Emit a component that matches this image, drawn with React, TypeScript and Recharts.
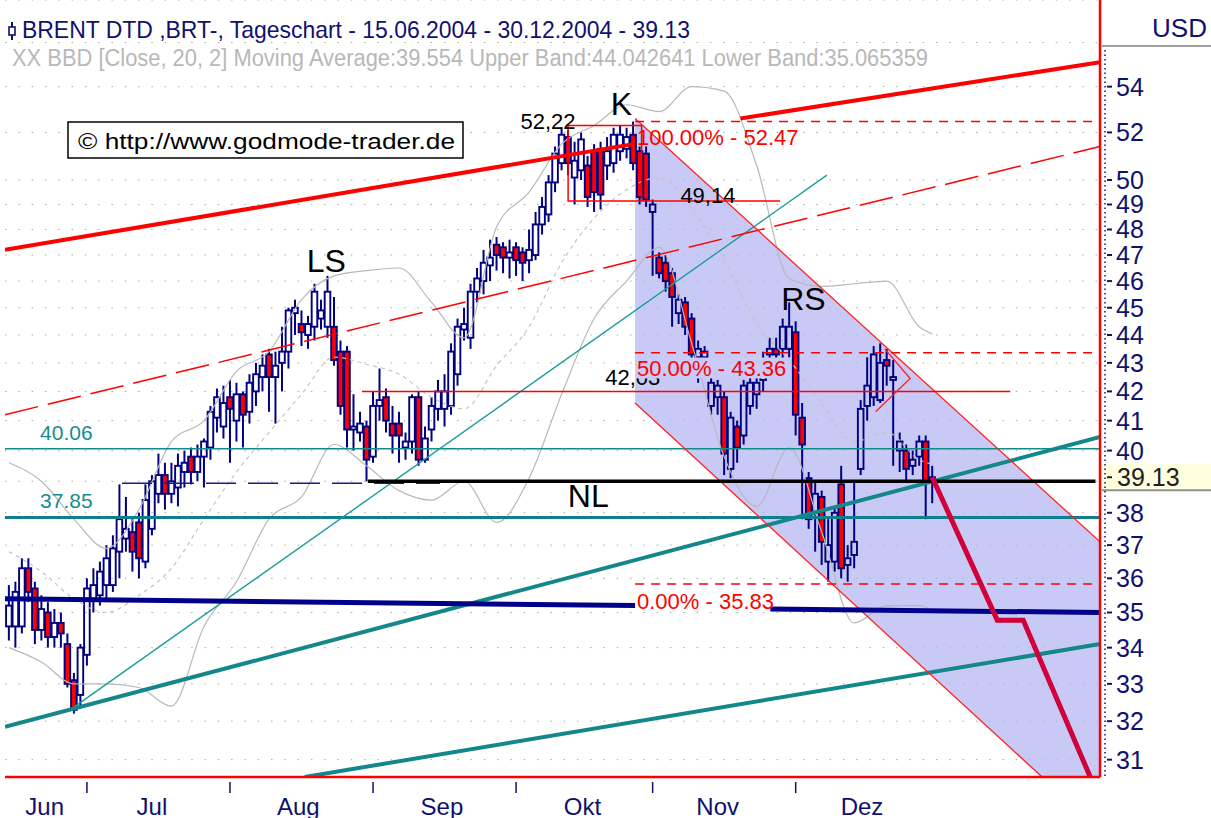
import React from 'react'
import {
  ComposedChart, Bar, Line, Area, XAxis, YAxis, CartesianGrid, ReferenceDot,
} from 'recharts'

// trading day index: 0 = 15.06.2004 ... 142 = 30.12.2004
const opens = [
  34.6, 34.6, 34.6, 36.3, 35.7, 34.5, 35.0, 34.3, 34.7, 34.1,
  33.1, 32.7, 33.8, 35.4, 35.5, 35.8, 35.8, 36.8, 37.2, 37.4,
  37.7, 36.5, 37.5, 38.6, 39.2, 38.6, 38.8, 39.3, 39.8, 39.3,
  39.8, 40.1, 41.1, 40.8, 41.8, 41.0, 41.9, 41.3, 42.0, 42.5,
  43.3, 42.5, 43.0, 43.4, 44.8, 44.4, 44.0, 44.3, 44.6, 44.3,
  44.3, 43.4, 43.4, 40.7, 40.6, 40.8, 39.8, 41.5, 41.8, 40.9,
  40.9, 40.1, 40.3, 41.8, 39.7, 40.7, 41.4, 41.4, 41.5, 42.6,
  44.2, 43.9, 45.6, 46.0, 46.6, 47.4, 47.3, 46.9, 47.3, 47.1,
  46.8, 47.0, 48.2, 48.6, 49.9, 50.7, 51.8, 50.1, 50.4, 50.6,
  51.2, 51.3, 50.6, 50.7, 51.2, 51.3, 51.9, 51.2, 51.1, 48.7,
  46.9, 46.7, 46.3, 44.8, 45.2, 44.6, 43.2, 43.2, 41.5, 41.8,
  41.8, 39.4, 40.8, 40.5, 41.5, 41.9, 42.4, 43.3, 43.5, 43.5,
  43.5, 44.1, 41.1, 39.1, 38.0, 38.5, 36.5, 36.5, 38.9, 36.4,
  36.7, 39.4, 41.5, 41.8, 41.7, 43.1, 42.4, 40.0, 40.0, 39.5,
  39.8, 40.3, 39.0,
]
const highs = [
  35.8, 35.9, 36.6, 36.6, 35.9, 35.5, 35.3, 35.1, 35.0, 34.4,
  33.3, 34.1, 36.0, 36.3, 36.5, 37.0, 37.3, 38.9, 38.5, 37.9,
  38.0, 38.9, 39.2, 39.9, 39.6, 39.6, 39.9, 40.0, 40.1, 40.2,
  40.4, 41.5, 42.1, 42.2, 42.4, 42.3, 42.0, 42.6, 43.0, 43.3,
  43.5, 43.4, 44.3, 45.0, 45.3, 44.9, 44.7, 45.9, 45.3, 46.2,
  45.4, 43.8, 43.6, 41.9, 41.3, 41.0, 42.0, 42.8, 42.1, 41.5,
  41.3, 40.6, 41.9, 42.0, 40.8, 41.8, 42.4, 42.6, 43.7, 44.6,
  45.0, 45.9, 46.5, 47.2, 47.6, 47.7, 47.5, 47.6, 47.5, 47.3,
  48.0, 48.7, 49.3, 50.2, 51.4, 52.22, 52.1, 51.6, 52.0, 51.0,
  51.5, 51.6, 51.8, 52.2, 52.3, 52.2, 52.47, 51.4, 51.4, 49.2,
  47.1, 47.0, 46.5, 45.5, 45.4, 44.8, 43.8, 43.6, 42.5, 42.4,
  42.0, 41.3, 41.0, 42.4, 42.6, 42.7, 43.4, 43.9, 43.9, 44.6,
  45.2, 44.5, 41.6, 39.3, 39.0, 38.7, 37.8, 38.2, 39.5, 37.0,
  39.0, 41.7, 43.2, 43.6, 43.7, 43.5, 43.1, 40.6, 40.2, 40.0,
  40.5, 40.5, 39.5,
]
const lows = [
  34.2, 34.0, 34.4, 35.3, 34.1, 34.2, 34.0, 34.0, 34.0, 32.9,
  32.2, 32.4, 33.5, 35.0, 35.2, 35.4, 35.6, 36.0, 36.8, 36.2,
  36.0, 36.3, 37.3, 38.3, 38.1, 38.3, 38.2, 38.8, 38.9, 39.0,
  38.8, 39.7, 40.6, 40.4, 39.6, 40.3, 40.1, 40.9, 41.5, 42.0,
  41.3, 40.9, 42.0, 42.8, 44.0, 43.6, 43.5, 43.8, 44.2, 43.9,
  42.9, 41.2, 40.1, 40.0, 40.3, 39.0, 39.6, 41.0, 40.6, 39.9,
  39.6, 39.7, 39.9, 39.5, 39.6, 40.3, 41.0, 40.8, 41.2, 42.2,
  43.8, 43.5, 45.2, 45.5, 46.0, 46.4, 46.3, 46.1, 46.2, 46.0,
  46.3, 46.8, 47.8, 48.3, 49.5, 50.4, 50.2, 49.0, 50.0, 48.9,
  48.7, 48.8, 50.0, 50.3, 50.8, 50.9, 50.4, 49.0, 48.9, 46.2,
  46.1, 45.6, 44.3, 44.4, 44.0, 42.5, 42.3, 42.6, 41.2, 41.2,
  39.2, 39.1, 39.6, 40.2, 41.2, 41.4, 42.0, 43.0, 42.9, 43.1,
  43.2, 40.5, 37.8, 37.5, 36.8, 36.4, 35.9, 36.2, 36.0, 35.9,
  36.3, 39.2, 41.0, 41.5, 41.6, 42.2, 39.5, 39.3, 39.0, 39.2,
  39.5, 37.8, 38.3,
]
const closes = [
  35.2, 35.6, 36.3, 35.6, 34.5, 35.1, 34.3, 34.7, 34.4, 33.0,
  32.3, 34.0, 35.7, 35.8, 36.2, 36.6, 36.9, 37.8, 37.5, 36.8,
  36.6, 38.4, 39.0, 39.2, 38.6, 39.0, 39.5, 39.6, 39.3, 39.8,
  40.3, 41.3, 41.8, 41.6, 41.4, 41.9, 41.2, 42.3, 42.6, 42.9,
  42.5, 42.9, 43.4, 44.9, 45.0, 44.1, 44.4, 45.6, 44.9, 45.6,
  43.1, 41.5, 40.7, 40.8, 40.9, 39.7, 41.5, 41.7, 41.0, 40.5,
  40.5, 40.3, 41.8, 39.7, 40.4, 41.5, 42.0, 42.0, 43.4, 44.3,
  44.4, 45.6, 46.1, 46.7, 46.9, 47.0, 46.9, 47.1, 46.8, 46.7,
  47.2, 48.2, 48.9, 49.9, 51.1, 51.9, 50.7, 50.8, 51.7, 49.3,
  49.5, 49.4, 51.2, 51.9, 51.9, 51.8, 50.7, 49.3, 49.2, 49.0,
  46.3, 46.0, 45.4, 45.3, 44.3, 43.3, 43.5, 43.4, 42.3, 42.2,
  39.9, 41.1, 40.1, 42.2, 42.3, 42.3, 43.0, 43.5, 43.3, 44.3,
  44.3, 41.2, 40.2, 37.8, 38.6, 37.1, 37.0, 38.0, 36.3, 36.6,
  37.1, 41.4, 42.2, 43.3, 43.0, 42.9, 42.5, 40.3, 39.4, 39.7,
  40.3, 39.0, 39.13,
]

// Bollinger bands (20, 2)
const bbIdx = [0, 5, 10, 15, 20, 25, 30, 35, 40, 45, 50, 55, 60, 65, 70, 75, 80, 85, 90, 95, 100, 105, 110, 115, 120, 125, 130, 135, 140, 142]
const bbUpper = [39.6, 39.0, 37.8, 36.9, 38.1, 40.3, 41.0, 42.7, 43.4, 45.3, 46.2, 46.4, 46.5, 45.2, 43.9, 48.1, 49.5, 51.5, 52.3, 53.2, 52.9, 54.0, 53.8, 50.6, 46.1, 45.8, 45.9, 46.0, 44.3, 44.04]
const bbMid = [36.8, 36.2, 35.4, 35.0, 35.5, 36.3, 37.8, 39.3, 40.6, 41.9, 43.2, 42.95, 42.6, 41.8, 41.4, 42.9, 44.3, 46.7, 48.45, 49.6, 50.1, 48.85, 46.8, 44.4, 43.1, 41.6, 40.3, 40.6, 39.7, 39.55]
const bbLower = [34.0, 33.6, 33.0, 33.0, 32.9, 32.4, 34.6, 35.9, 37.8, 38.5, 40.2, 39.5, 38.7, 38.4, 39.0, 37.7, 39.1, 41.9, 44.6, 46.0, 47.3, 43.7, 39.8, 38.2, 40.1, 37.4, 34.7, 35.2, 35.2, 35.07]

const monthStarts = [12, 34, 56, 78, 99, 121]
const monthMids = [5.5, 22, 44.5, 66.6, 88.2, 109, 131.2]
const monthNames = ['Jun', 'Jul', 'Aug', 'Sep', 'Okt', 'Nov', 'Dez']
const priceTicks = [31, 32, 33, 34, 35, 36, 37, 38, 39, 40, 41, 42, 43, 44, 45, 46, 47, 48, 49, 50, 52, 54, 56, 58]
const hiddenTickLabels = [39, 56, 58]
const lastPrice = 39.13

// drawn trend lines, [index, price]
const redTop1 = [[-0.6, 47.2], [96, 51.5]]
const redTop2 = [[112.5, 52.6], [167.8, 55.1]]
const redMid = [[-0.6, 41.2], [167.8, 51.4]]
const tealThin = [[9.4, 32.3], [125.8, 50.2]]
const tealThick = [[-0.6, 31.85], [167.8, 40.45]]
const tealLow = [[45.5, 30.56], [167.8, 34.1]]
const lvl4006 = [[-0.6, 40.06], [167.8, 40.06]]
const lvl3785 = [[-0.6, 37.85], [167.8, 37.85]]
const neckline = [[55.2, 39.0], [167.1, 39.0]]
const necklineLeft = [[17.4, 38.94], [66.3, 38.94]]
const support35a = [[-0.6, 35.4], [96.3, 35.2]]
const support35b = [[117.1, 35.1], [167.8, 35.0]]
const chanUpper = [[96.3, 52.6], [167.8, 37.1]]
const chanLower = [[96.3, 41.6], [158.9, 30.56]]
const chanFill = [[96.3, 41.6, 52.6], [158.9, 30.56, 38.73], [167.8, 30.56, 37.1]]
const fib100 = [[96.3, 52.47], [167.8, 52.47]]
const fib50 = [[96.3, 43.36], [167.8, 43.36]]
const fib0 = [[96.3, 35.83], [167.8, 35.83]]
const kBox = [[97.3, 49.14], [97.3, 52.3], [86, 52.3], [86, 49.14], [118.6, 49.14]]
const line42 = [[54.3, 42.0], [154, 42.0]]
const flag = [[133.3, 41.3], [138.6, 42.45], [134.7, 43.5]]
const projection = [[142, 39.13], [152, 34.78], [156, 34.78], [166.3, 30.56]]

const NARROW = "'Liberation Sans Narrow', 'Arial Narrow', 'Liberation Sans', Arial, sans-serif"
const SANS = "'Liberation Sans', Arial, sans-serif"
const NAVY = '#10106e'

const seg = (pts: number[][]) => pts.map(([i, v]) => ({ i, v }))

function Candle(props: any) {
  const { x, y, width, height, payload } = props
  if (height == null || isNaN(height)) return null
  const { o, c, h, l } = payload
  const lh = Math.log(h)
  const span = lh - Math.log(l) || 1
  const py = (v: number) => y + (height * (lh - Math.log(v))) / span
  const cx = x + width / 2
  const top = py(Math.max(o, c))
  const bot = Math.max(py(Math.min(o, c)), top + 2)
  const down = c < o
  return (
    <g>
      <line x1={cx} x2={cx} y1={y} y2={top} stroke="#000080" strokeWidth={2} />
      <line x1={cx} x2={cx} y1={bot} y2={y + height} stroke="#000080" strokeWidth={2} />
      <rect x={cx - 2.8} y={top} width={5.6} height={bot - top}
        fill={down ? '#ff0000' : 'none'} stroke="#000080" strokeWidth={1.9} />
    </g>
  )
}

function MonthTick(props: any) {
  const { x, y, payload } = props
  const k = monthMids.indexOf(payload.value)
  if (k >= 0) {
    return <text x={x} y={y + 38} textAnchor="middle" fontFamily={NARROW} fontSize={24} fill={NAVY}>{monthNames[k]}</text>
  }
  return <line x1={x} x2={x} y1={y + 5} y2={y + 16} stroke={NAVY} strokeWidth={1.5} />
}

function PriceTick(props: any) {
  const { x, y, payload } = props
  if (hiddenTickLabels.includes(payload.value)) return <g />
  return (
    <g>
      <line x1={x + 7} x2={x + 12} y1={y} y2={y} stroke={NAVY} strokeWidth={2} />
      <text x={x + 16} y={y + 9} fontFamily={NARROW} fontSize={25} fill={NAVY}>{payload.value}</text>
    </g>
  )
}

function LastPrice(p: any) {
  return (
    <g>
      <rect x={p.cx + 2} y={p.cy - 13} width={111} height={26} fill="#ffffe0" />
      <line x1={p.cx + 2} x2={p.cx + 113} y1={p.cy + 13} y2={p.cy + 13} stroke="#909090" strokeWidth={2} />
      <line x1={p.cx + 7} x2={p.cx + 12} y1={p.cy} y2={p.cy} stroke="#202020" strokeWidth={2} />
      <text x={p.cx + 17} y={p.cy + 9} fontFamily={NARROW} fontSize={25} fill="#202020">{lastPrice.toFixed(2)}</text>
    </g>
  )
}

const textAt = (text: string, size: number, color: string, anchor = 'middle', font = SANS, bg?: string, bgw = 0) =>
  (p: any) => (
    <g>
      {bg && <rect x={p.cx - 1} y={p.cy - size * 0.5} width={bgw} height={size * 0.95} fill={bg} />}
      <text x={p.cx} y={p.cy + size * 0.36} textAnchor={anchor} fontFamily={font} fontSize={size} fill={color}>{text}</text>
    </g>
  )

export default function App() {
  const data = closes.map((c, i) => ({ i, range: [lows[i], highs[i]], o: opens[i], h: highs[i], l: lows[i], c }))
  const bb = bbIdx.map((i, k) => ({ i, up: bbUpper[k], mid: bbMid[k], lo: bbLower[k] }))
  const chan = chanFill.map(([i, lo, hi]) => ({ i, band: [lo, hi] }))
  const plain = { type: 'linear' as const, dot: false, activeDot: false, isAnimationActive: false, legendType: 'none' as const }

  return (
    <div style={{ position: 'relative', width: 1211, height: 818, background: '#fff', overflow: 'hidden' }}>
      <style>{'body{margin:0}'}</style>
      <ComposedChart width={1211} height={818} data={data} margin={{ top: 0, right: 0, bottom: 0, left: 5 }}>
        <CartesianGrid vertical={false} stroke="#a8a8a8" strokeDasharray="1.5 11.8" />
        <XAxis dataKey="i" type="number" domain={[-0.6, 167.8]} allowDataOverflow
          ticks={[...monthStarts, ...monthMids]} interval={0} tick={MonthTick}
          tickLine={false} tickSize={0} tickMargin={0} height={41}
          axisLine={{ stroke: '#ff0000', strokeWidth: 2.5 }} />
        <YAxis orientation="right" scale="log" domain={[30.56, 58]} allowDataOverflow
          ticks={priceTicks} interval={0} tick={PriceTick} tickLine={false} tickSize={0} tickMargin={0}
          width={111} axisLine={{ stroke: '#ff0000', strokeWidth: 2.5 }} />

        <Area data={chan} dataKey="band" type="linear" stroke="none" fill="#b4b4f2" fillOpacity={0.72}
          isAnimationActive={false} legendType="none" activeDot={false} />

        <Line {...plain} data={bb} dataKey="up" type="monotone" stroke="#b8b8b8" strokeWidth={1.2} />
        <Line {...plain} data={bb} dataKey="lo" type="monotone" stroke="#b8b8b8" strokeWidth={1.2} />
        <Line {...plain} data={bb} dataKey="mid" type="monotone" stroke="#c4c4c4" strokeWidth={1.2} strokeDasharray="4 4" />

        <Bar dataKey="range" shape={Candle} barSize={6} isAnimationActive={false} legendType="none" />

        <Line {...plain} data={seg(lvl4006)} dataKey="v" stroke="#138a8a" strokeWidth={1.5} />
        <Line {...plain} data={seg(lvl3785)} dataKey="v" stroke="#0f7f8f" strokeWidth={3} />
        <Line {...plain} data={seg(tealThin)} dataKey="v" stroke="#1c9c9c" strokeWidth={1.4} />
        <Line {...plain} data={seg(tealThick)} dataKey="v" stroke="#13878a" strokeWidth={4} />
        <Line {...plain} data={seg(tealLow)} dataKey="v" stroke="#13878a" strokeWidth={4} />
        <Line {...plain} data={seg(redMid)} dataKey="v" stroke="#ff0000" strokeWidth={1.5} strokeDasharray="34 10" />
        <Line {...plain} data={seg(redTop1)} dataKey="v" stroke="#ff0000" strokeWidth={4} />
        <Line {...plain} data={seg(redTop2)} dataKey="v" stroke="#ff0000" strokeWidth={4} />
        <Line {...plain} data={seg(chanUpper)} dataKey="v" stroke="#ff2020" strokeWidth={1.3} />
        <Line {...plain} data={seg(chanLower)} dataKey="v" stroke="#ff2020" strokeWidth={1.3} />
        <Line {...plain} data={seg(fib100)} dataKey="v" stroke="#ff0000" strokeWidth={1.5} strokeDasharray="9 7" />
        <Line {...plain} data={seg(fib50)} dataKey="v" stroke="#ff0000" strokeWidth={1.5} strokeDasharray="9 7" />
        <Line {...plain} data={seg(fib0)} dataKey="v" stroke="#ff0000" strokeWidth={1.5} strokeDasharray="9 7" />
        <Line {...plain} data={seg(kBox)} dataKey="v" stroke="#ff0000" strokeWidth={1.5} />
        <Line {...plain} data={seg(line42)} dataKey="v" stroke="#ff0000" strokeWidth={1.5} />
        <Line {...plain} data={seg(flag)} dataKey="v" stroke="#ff2020" strokeWidth={1.3} />
        <Line {...plain} data={seg(necklineLeft)} dataKey="v" stroke="#1a1a8a" strokeWidth={1.5} strokeDasharray="30 12" />
        <Line {...plain} data={seg(neckline)} dataKey="v" stroke="#000000" strokeWidth={3.5} />
        <Line {...plain} data={seg(support35a)} dataKey="v" stroke="#00008b" strokeWidth={5} />
        <Line {...plain} data={seg(support35b)} dataKey="v" stroke="#00008b" strokeWidth={5} />
        <Line {...plain} data={seg(projection)} dataKey="v" stroke="#d0003a" strokeWidth={5} />

        <ReferenceDot x={48.8} y={46.8} r={0} ifOverflow="visible" shape={textAt('LS', 32, '#000')} />
        <ReferenceDot x={94.2} y={53.25} r={0} ifOverflow="visible" shape={textAt('K', 32, '#000')} />
        <ReferenceDot x={122.2} y={45.35} r={0} ifOverflow="visible" shape={textAt('RS', 32, '#000')} />
        <ReferenceDot x={89.1} y={38.55} r={0} ifOverflow="visible" shape={textAt('NL', 32, '#000')} />
        <ReferenceDot x={82.9} y={52.47} r={0} ifOverflow="visible" shape={textAt('52,22', 22, '#000')} />
        <ReferenceDot x={107.5} y={49.4} r={0} ifOverflow="visible" shape={textAt('49,14', 22, '#000')} />
        <ReferenceDot x={91.7} y={42.5} r={0} ifOverflow="visible" shape={textAt('42,03', 22, '#000', 'start')} />
        <ReferenceDot x={4.8} y={40.6} r={0} ifOverflow="visible" shape={textAt('40.06', 21, '#158d8d', 'start', NARROW)} />
        <ReferenceDot x={4.8} y={38.4} r={0} ifOverflow="visible" shape={textAt('37.85', 21, '#158d8d', 'start', NARROW)} />
        <ReferenceDot x={96.6} y={51.8} r={0} ifOverflow="visible" shape={textAt('100.00% - 52.47', 22, '#ff0000', 'start')} />
        <ReferenceDot x={96.6} y={42.8} r={0} ifOverflow="visible" shape={textAt('50.00% - 43.36', 22, '#ff0000', 'start', SANS, '#cacaf8', 150)} />
        <ReferenceDot x={96.6} y={35.33} r={0} ifOverflow="visible" shape={textAt('0.00% - 35.83', 22, '#ff0000', 'start')} />
        <ReferenceDot x={167.8} y={lastPrice} r={0} ifOverflow="visible" shape={LastPrice} />
      </ComposedChart>

      <svg width={1211} height={818} style={{ position: 'absolute', left: 0, top: 0, pointerEvents: 'none' }}>
        <line x1={12} x2={12} y1={22} y2={40} stroke={NAVY} strokeWidth={2} />
        <rect x={9} y={27} width={6} height={8} fill="#fff" stroke={NAVY} strokeWidth={1.6} />
        <text x={22} y={38} fontFamily={NARROW} fontSize={24} fill={NAVY} textLength={668} lengthAdjust="spacingAndGlyphs">
          BRENT DTD ,BRT-, Tageschart - 15.06.2004 - 30.12.2004 - 39.13
        </text>
        <text x={12} y={66} fontFamily={NARROW} fontSize={23} fill="#b8b8b8" textLength={916} lengthAdjust="spacingAndGlyphs">
          XX BBD [Close, 20, 2] Moving Average:39.554 Upper Band:44.042641 Lower Band:35.065359
        </text>
        <rect x={68} y={122} width={395} height={36} fill="#fff" stroke="#000" strokeWidth={1.5} />
        <text x={78} y={149} fontFamily={SANS} fontSize={22} fill="#000" textLength={377} lengthAdjust="spacingAndGlyphs">
          © http://www.godmode-trader.de
        </text>
        <rect x={1102} y={0} width={109} height={46} fill="#fff" />
        <line x1={1102} x2={1211} y1={46} y2={46} stroke="#a0a0a0" strokeWidth={2} />
        <text x={1207} y={37} textAnchor="end" fontFamily={NARROW} fontSize={26} fill={NAVY}>USD</text>
        <line x1={1105} x2={1105} y1={50} y2={776} stroke={NAVY} strokeWidth={1.5} strokeDasharray="1.5 3" />
      </svg>
    </div>
  )
}
